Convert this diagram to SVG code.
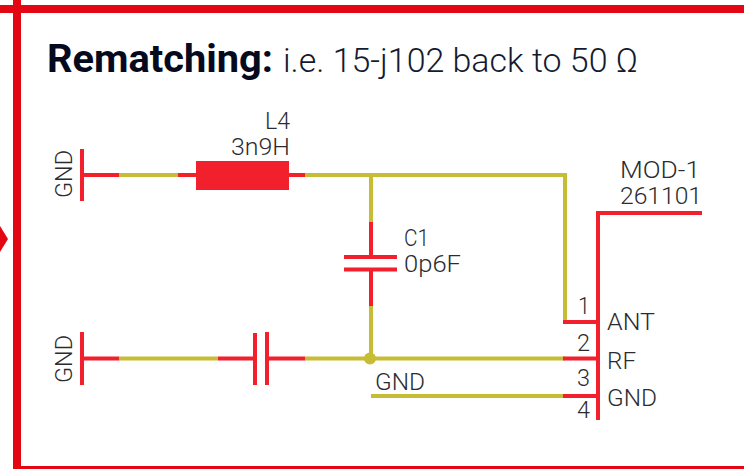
<svg xmlns="http://www.w3.org/2000/svg" width="744" height="469" viewBox="0 0 744 469">
<style>
text{font-family:Roboto,"Open Sans",sans-serif;font-weight:300;fill:#2b2b30;font-size:24px}
.f{fill:none;stroke:#e30613;stroke-width:8}
.r{fill:none;stroke:#f21f2d;stroke-width:4}
.o{fill:none;stroke:#c6bd35;stroke-width:4}
</style>
<rect width="744" height="469" fill="#fff"/>
<g id="frame">
<path class="f" d="M0 9H744M17 0V469"/>
<path d="M13 467.500H744" fill="none" stroke="#e30613" stroke-width="3"/>
<polygon points="0,226 8,239 0,252" fill="#e30613"/>
</g>
<g id="title">
<text x="47" y="72" style="font-size:39px;font-weight:700;fill:#050a1e" textLength="226" lengthAdjust="spacingAndGlyphs">Rematching:</text>
<text x="283" y="72" style="font-size:34px;fill:#141a30" textLength="355" lengthAdjust="spacingAndGlyphs">i.e. 15-j102 back to 50 Ω</text>
</g>
<g id="connectors">
<path class="o" d="M119 175H178M305 175H565V322M371 175V222M371 306V358M119 358.500H218M305 358.500H565M371 396H565"/>
<path class="r" d="M84 175H119M178 175H196M289 175H305M371 222V256M371 270V306M84 358.500H119M218 358.500H254M269 358.500H305"/>
</g>
<g id="gnd1"><path class="r" d="M82 149V201"/><text transform="translate(72 198) rotate(-90)" textLength="48" lengthAdjust="spacingAndGlyphs">GND</text></g>
<g id="gnd2"><path class="r" d="M82 332V385"/><text transform="translate(72 383) rotate(-90)" textLength="48" lengthAdjust="spacingAndGlyphs">GND</text></g>
<g id="L4"><rect x="196" y="161" width="93" height="29" fill="#f21f2d"/><text x="265" y="129" textLength="25" lengthAdjust="spacingAndGlyphs">L4</text><text x="231" y="155" textLength="59" lengthAdjust="spacingAndGlyphs">3n9H</text></g>
<g id="C1"><path class="r" d="M344 257H397M344 269.500H397"/><text x="404" y="246" textLength="25" lengthAdjust="spacingAndGlyphs">C1</text><text x="404" y="272" textLength="57" lengthAdjust="spacingAndGlyphs">0p6F</text></g>
<g id="C2"><path class="r" d="M255 333V385M267 332V385"/></g>
<g id="junction"><circle cx="370" cy="358.500" r="6" fill="#c6bd35"/></g>
<g id="gndnet"><text x="375" y="390" textLength="50" lengthAdjust="spacingAndGlyphs">GND</text></g>
<g id="MOD-1">
<path class="r" d="M702 213H598V420M563 322H598M563 358.500H598M563 396H598"/>
<text x="620" y="178" textLength="80" lengthAdjust="spacingAndGlyphs">MOD-1</text><text x="620" y="204" textLength="82" lengthAdjust="spacingAndGlyphs">261101</text>
<text x="578" y="314" textLength="12" lengthAdjust="spacingAndGlyphs">1</text><text x="577" y="351" textLength="13" lengthAdjust="spacingAndGlyphs">2</text><text x="577" y="386" textLength="13" lengthAdjust="spacingAndGlyphs">3</text><text x="577" y="418" textLength="13" lengthAdjust="spacingAndGlyphs">4</text>
<text x="607" y="330" textLength="48" lengthAdjust="spacingAndGlyphs">ANT</text><text x="607" y="369" textLength="29" lengthAdjust="spacingAndGlyphs">RF</text><text x="607" y="406" textLength="50" lengthAdjust="spacingAndGlyphs">GND</text>
</g>
</svg>
